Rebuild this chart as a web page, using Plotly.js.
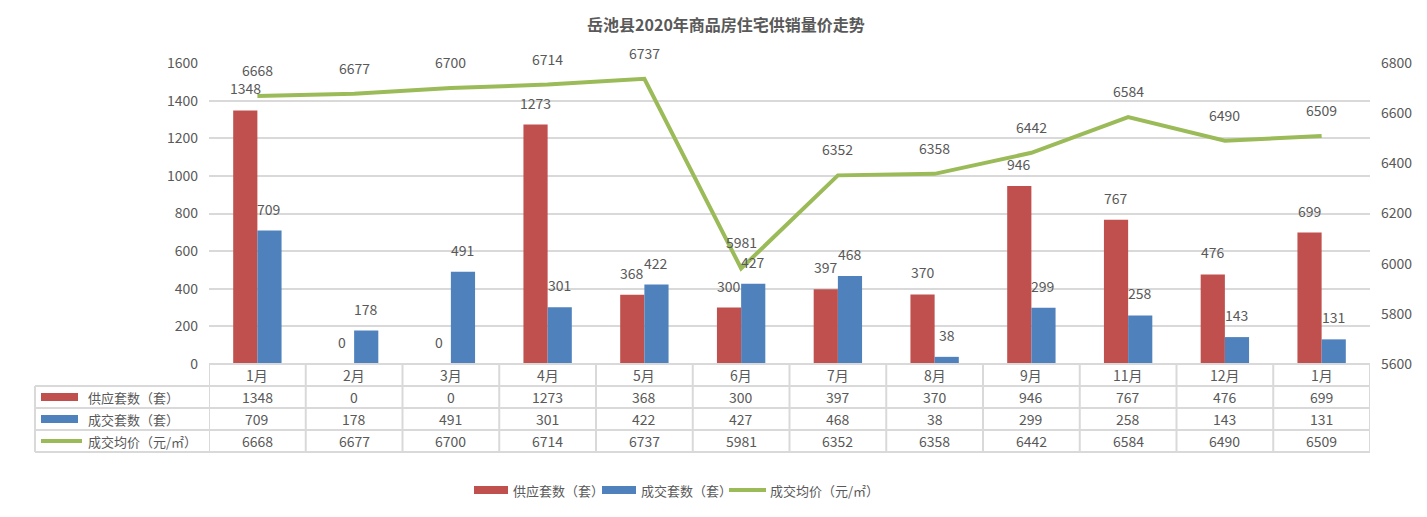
<!DOCTYPE html>
<html>
<head>
<meta charset="utf-8">
<script src="https://cdn.plot.ly/plotly-3.0.1.min.js"></script>
<style>html,body{margin:0;padding:0;background:#fff;}#chart{width:1427px;height:517px;}</style>
</head>
<body>
<div id="chart"></div>
<script>
const months = ['1月','2月','3月','4月','5月','6月','7月','8月','9月','11月','12月','1月'];
const supply = [1348,0,0,1273,368,300,397,370,946,767,476,699];
const sales = [709,178,491,301,422,427,468,38,299,258,143,131];
const price = [6668,6677,6700,6714,6737,5981,6352,6358,6442,6584,6490,6509];
const seriesNames = ['供应套数（套）','成交套数（套）','成交均价（元/㎡）'];
const titleText = '岳池县2020年商品房住宅供销量价走势';

const W = 1427, H = 517;
const L = 209, R = 1370, T = 63, B = 364;
const PW = R - L, PH = B - T;
const px = x => (x - L) / PW;
const py = y => 1 - (y - T) / PH;

const FONT = '"Noto Sans CJK SC", "Microsoft YaHei", sans-serif';
const TXT = '#595959';
const GRID = '#D9D9D9';
const RED = '#C0504D', BLUE = '#4F81BD', GREEN = '#9BBB59';
const idx = months.map((m, i) => i);

const traces = [
  {type:'bar', x: idx, y: supply, name: seriesNames[0], marker:{color: RED}, hoverinfo:'y'},
  {type:'bar', x: idx, y: sales, name: seriesNames[1], marker:{color: BLUE}, hoverinfo:'y'},
  {type:'scatter', mode:'lines', x: idx, y: price, yaxis:'y2', name: seriesNames[2], line:{color: GREEN, width: 4}, hoverinfo:'y'}
];

const annotations = [];
const shapes = [];

// data labels
idx.forEach(i => {
  annotations.push({x: i, y: supply[i], xref:'x', yref:'y', text: String(supply[i]), showarrow:false, xanchor:'center', xshift:-12, yanchor:'bottom', yshift:10, font:{family:FONT, size:14, color:TXT}});
  annotations.push({x: i, y: sales[i], xref:'x', yref:'y', text: String(sales[i]), showarrow:false, xanchor:'center', xshift:12, yanchor:'bottom', yshift:10, font:{family:FONT, size:14, color:TXT}});
  annotations.push({x: i, y: price[i], xref:'x', yref:'y2', text: String(price[i]), showarrow:false, xanchor:'center', yanchor:'bottom', yshift:14, font:{family:FONT, size:14, color:TXT}});
});

// data table
const rowYs = [386, 408, 430, 452];
const rowCenters = [397, 419, 441];
const lineStyle = {color: GRID, width: 2};
for (let i = 0; i <= months.length; i++) {
  shapes.push({type:'line', xref:'x', yref:'paper', x0: i - 0.5, x1: i - 0.5, y0: py(B), y1: py(452), line: lineStyle});
}
rowYs.forEach(y => {
  shapes.push({type:'line', xref:'paper', yref:'paper', x0: px(35), x1: px(R), y0: py(y), y1: py(y), line: lineStyle});
});
shapes.push({type:'line', xref:'paper', yref:'paper', x0: px(35), x1: px(35), y0: py(386), y1: py(452), line: lineStyle});
shapes.push({type:'line', xref:'paper', yref:'paper', x0: px(L), x1: px(R), y0: py(B), y1: py(B), line: lineStyle});

const rows = [supply, sales, price];
rows.forEach((arr, r) => {
  idx.forEach(i => {
    annotations.push({x: i, y: py(rowCenters[r]), xref:'x', yref:'paper', xanchor:'center', yanchor:'middle', text: String(arr[i]), showarrow:false, font:{family:FONT, size:14, color:TXT}});
  });
});
idx.forEach(i => {
  annotations.push({x: i, y: py(375), xref:'x', yref:'paper', xanchor:'center', yanchor:'middle', text: months[i], showarrow:false, font:{family:FONT, size:14, color:TXT}});
});

// table left legend column
const colors = [RED, BLUE, GREEN];
rowCenters.forEach((yc, r) => {
  if (r < 2) {
    shapes.push({type:'rect', xref:'paper', yref:'paper', x0: px(41), x1: px(78), y0: py(yc - 4), y1: py(yc + 4), fillcolor: colors[r], line:{width:0}});
  } else {
    shapes.push({type:'line', xref:'paper', yref:'paper', x0: px(41), x1: px(82), y0: py(yc), y1: py(yc), line:{color: GREEN, width:4}});
  }
  annotations.push({x: px(86), y: py(yc), xref:'paper', yref:'paper', xanchor:'left', yanchor:'middle', text: seriesNames[r], showarrow:false, font:{family:FONT, size:13, color:TXT}});
});

// bottom legend
const legItems = [
  {x0: 474, x1: 508, tx: 511},
  {x0: 602, x1: 636, tx: 639},
  {x0: 729, x1: 766, tx: 768}
];
legItems.forEach((it, r) => {
  if (r < 2) {
    shapes.push({type:'rect', xref:'paper', yref:'paper', x0: px(it.x0), x1: px(it.x1), y0: py(486), y1: py(494), fillcolor: colors[r], line:{width:0}});
  } else {
    shapes.push({type:'line', xref:'paper', yref:'paper', x0: px(it.x0), x1: px(it.x1), y0: py(490), y1: py(490), line:{color: GREEN, width:4}});
  }
  annotations.push({x: px(it.tx), y: py(490), xref:'paper', yref:'paper', xanchor:'left', yanchor:'middle', text: seriesNames[r], showarrow:false, font:{family:FONT, size:13, color:TXT}});
});

const layout = {
  width: W, height: H,
  margin: {l: L, r: W - R, t: T, b: H - B, pad: 0},
  paper_bgcolor: '#fff', plot_bgcolor: '#fff',
  title: {text: '<b>' + titleText + '</b>', x: 726 / W, xanchor: 'center', y: 1 - 25 / H, yanchor: 'middle', font: {family: FONT, size: 16, color: TXT}},
  showlegend: false,
  barmode: 'group', bargap: 0.5, bargroupgap: 0,
  xaxis: {range: [-0.5, months.length - 0.5], showticklabels: false, showgrid: false, zeroline: false, showline: false, ticks: '', fixedrange: true},
  yaxis: {range: [0, 1600], dtick: 200, showgrid: true, gridcolor: GRID, gridwidth: 2, zeroline: false, showline: false, ticks: '', tickfont: {family: FONT, size: 14, color: TXT}, ticklabelstandoff: 10},
  yaxis2: {range: [5600, 6800], dtick: 200, overlaying: 'y', side: 'right', showgrid: false, zeroline: false, showline: false, ticks: '', tickfont: {family: FONT, size: 14, color: TXT}, ticklabelstandoff: 10},
  annotations: annotations,
  shapes: shapes
};

Plotly.newPlot('chart', traces, layout, {displayModeBar: false, staticPlot: true});
</script>
</body>
</html>
